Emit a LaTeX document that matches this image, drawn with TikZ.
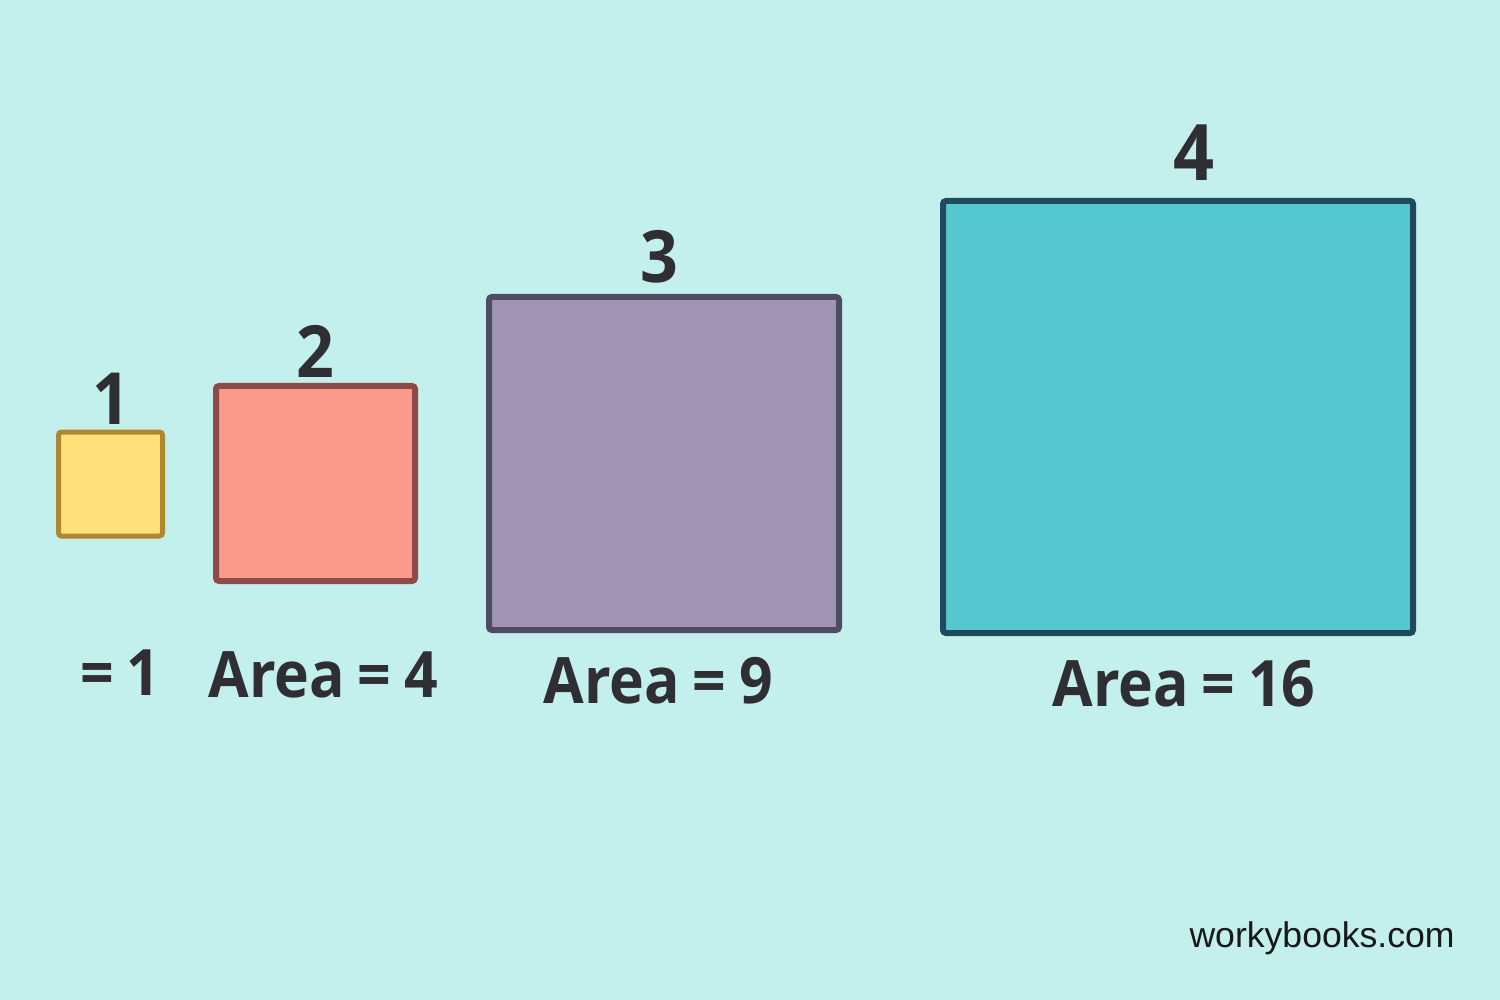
\documentclass[tikz,border=0pt]{standalone}
\usepackage{fontspec}
\newfontfamily\pop{Open Sans}[FakeStretch=0.92]
\newfontfamily\lib{Liberation Sans}
\definecolor{bg}{HTML}{C3F0EC}
\definecolor{ink}{HTML}{2E2E33}
\definecolor{yfill}{HTML}{FFE07A}\definecolor{ydraw}{HTML}{B0862E}
\definecolor{rfill}{HTML}{F99A8A}\definecolor{rdraw}{HTML}{8E4A48}
\definecolor{pfill}{HTML}{A096B4}\definecolor{pdraw}{HTML}{4F4A66}
\definecolor{tfill}{HTML}{56C7CE}\definecolor{tdraw}{HTML}{1E4A5E}
\newcommand{\eqsp}{\hspace{0.2em}}
\tikzset{
  sq/.style={rectangle, inner sep=0pt, outer sep=0pt, rounded corners=1.5pt, line width=3pt},
  side/.style={text=ink, inner sep=0pt, font=\pop\bfseries\fontsize{36}{40}\selectfont},
  area/.style={text=ink, inner sep=0pt, anchor=base west, font=\pop\bfseries\fontsize{32}{36}\selectfont},
}
\begin{document}
\begin{tikzpicture}[x=0.5pt,y=-0.5pt]
\fill[bg] (0,0) rectangle (1500,1000);
\useasboundingbox (0,0) rectangle (1500,1000);
% squares
\node[sq, line width=2.5pt, draw=ydraw, fill=yfill, minimum width=52pt, minimum height=52pt] (s1) at (110.5,484) {};
\node[sq, draw=rdraw, fill=rfill, minimum width=99.5pt, minimum height=97.5pt] (s2) at (315.5,483.5) {};
\node[sq, draw=pdraw, fill=pfill, minimum width=175pt, minimum height=166.5pt] (s3) at (664,463.5) {};
\node[sq, draw=tdraw, fill=tfill, minimum width=235pt, minimum height=216pt] (s4) at (1178,417) {};
% side labels
\node[side, anchor=base] (l1) at (111,424) {1};
\node[side, anchor=base] (l2) at (315,378) {2};
\node[side, anchor=base] (l3) at (659,283) {3};
\node[side, anchor=base, font=\pop\bfseries\fontsize{39}{44}\selectfont] (l4) at (1194,181) {4};
% area labels
\node[area] (a1) at (80,695) {=\eqsp1};
\node[area] (a2) at (208,697) {Area\eqsp=\eqsp4};
\node[area] (a3) at (543,703) {Area\eqsp=\eqsp9};
\node[area] (a4) at (1052,706) {Area\eqsp=\eqsp16};
% credit
\node[text=black!90, inner sep=0pt, anchor=base east, font=\lib\fontsize{17.8}{20}\selectfont] (credit) at (1455,947) {workybooks.com};
\end{tikzpicture}
\end{document}
